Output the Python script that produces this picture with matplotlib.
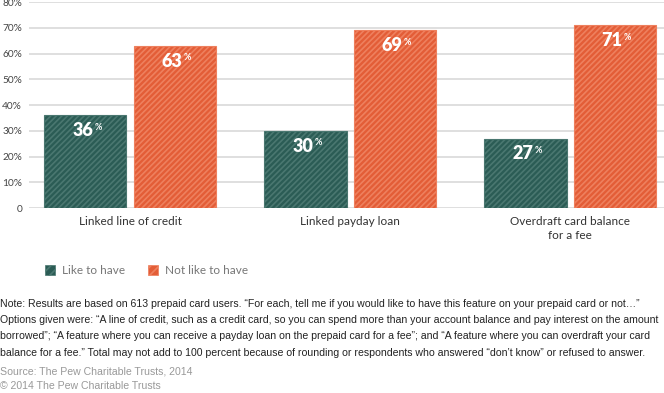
import numpy as np
import matplotlib
matplotlib.use("Agg")
import matplotlib.pyplot as plt

plt.rcParams['font.family'] = ['Lato', 'DejaVu Sans']
plt.rcParams['hatch.linewidth'] = 1.2

categories = ['Linked line of credit', 'Linked payday loan', 'Overdraft card balance\nfor a fee']
like_to_have = [36, 30, 27]
not_like_to_have = [63, 69, 71]
series_names = ['Like to have', 'Not like to have']
y_ticks = [0, 10, 20, 30, 40, 50, 60, 70, 80]
y_tick_labels = ['0', '10%', '20%', '30%', '40%', '50%', '60%', '70%', '80%']

note = ("Note: Results are based on 613 prepaid card users. \u201cFor each, tell me if you would like to have this feature on your prepaid card or not\u2026\u201d\n"
        "Options given were: \u201cA line of credit, such as a credit card, so you can spend more than your account balance and pay interest on the amount\n"
        "borrowed\u201d; \u201cA feature where you can receive a payday loan on the prepaid card for a fee\u201d; and \u201cA feature where you can overdraft your card\n"
        "balance for a fee.\u201d Total may not add to 100 percent because of rounding or respondents who answered \u201cdon\u2019t know\u201d or refused to answer.")
source = "Source: The Pew Charitable Trusts, 2014\n\u00a9 2014 The Pew Charitable Trusts"

green = '#2b5c55'
green_hatch = '#4a7770'
orange = '#e35d37'
orange_hatch = '#ee805e'
text_gray = '#444444'

fig = plt.figure(figsize=(6.64, 3.93), dpi=100)
ax = fig.add_axes([0.0437, 0.4707, 0.9563, 0.524])

x = np.arange(len(categories))
w = 0.373
off = 0.2025
b1 = ax.bar(x - off, like_to_have, w, color=green, edgecolor=green_hatch, hatch='//////', linewidth=0.8, zorder=3)
b2 = ax.bar(x + off, not_like_to_have, w, color=orange, edgecolor=orange_hatch, hatch='//////', linewidth=0.8, zorder=3)

for bars, vals in [(b1, like_to_have), (b2, not_like_to_have)]:
    for b, v in zip(bars, vals):
        cx = b.get_x() + b.get_width() / 2
        ax.annotate(str(v), (cx, v), xytext=(-2, -5), textcoords='offset points',
                    ha='center', va='top', color='white', fontsize=13, fontweight='heavy', zorder=4)
        ax.annotate('%', (cx, v), xytext=(6.5, -5.5), textcoords='offset points',
                    ha='left', va='top', color='white', fontsize=6.5, fontweight='bold', zorder=4)

ax.set_xlim(-0.459, 2.427)
ax.set_ylim(0, 80)
ax.set_yticks(y_ticks)
ax.set_yticklabels(y_tick_labels, color=text_gray, fontsize=7.3)
ax.yaxis.grid(True, color='#d9d9d9', linewidth=1.2, zorder=0)
ax.set_axisbelow(True)
ax.tick_params(axis='y', length=0, pad=5)
ax.tick_params(axis='x', length=0, pad=6)
ax.set_xticks(x)
ax.set_xticklabels(categories, color='#333333', fontsize=8.5, linespacing=1.3, va='top')
for s in ax.spines.values():
    s.set_visible(False)

# legend
for i, (name, col, hc) in enumerate([(series_names[0], green, green_hatch), (series_names[1], orange, orange_hatch)]):
    x0 = [45, 148][i] / 664
    fig.patches.append(plt.Rectangle((x0, 1 - 275 / 393), 10 / 664, 10 / 393, transform=fig.transFigure,
                                     facecolor=col, edgecolor=hc, hatch='////', linewidth=0.5))
    fig.text(x0 + 17 / 664, 1 - 270 / 393, name, color='#777777', fontsize=8.5, va='center')

fig.text(0.0, 1 - 299 / 393, note, fontsize=7.6, color='#222222', va='top', linespacing=1.78,
         family=['Liberation Sans Narrow', 'Liberation Sans', 'DejaVu Sans'])
fig.text(0.0, 1 - 367 / 393, source, fontsize=7.6, color='#999999', va='top', linespacing=1.55,
         family=['Liberation Sans Narrow', 'Liberation Sans', 'DejaVu Sans'])

fig.savefig('out.png', dpi=100)
